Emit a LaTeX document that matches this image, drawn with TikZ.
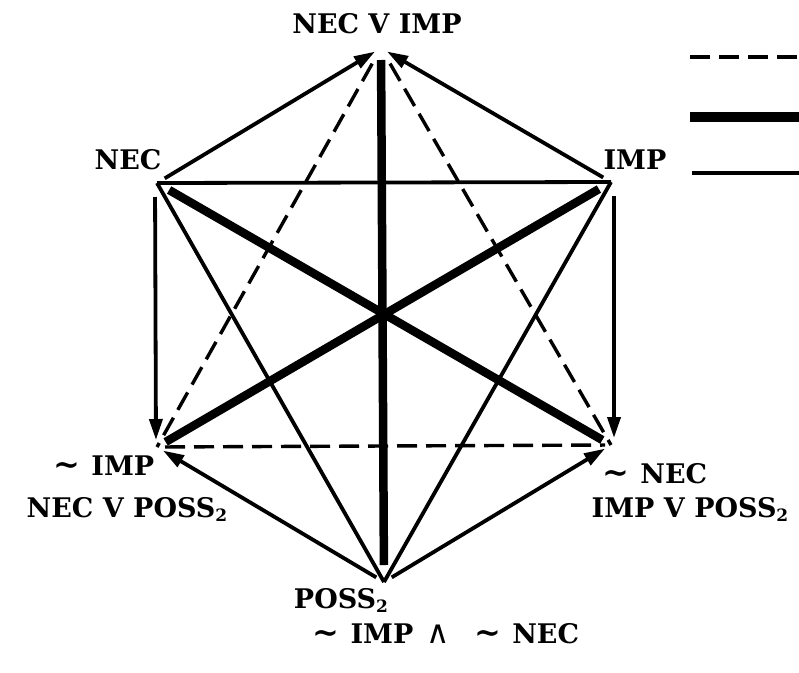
\documentclass[tikz,border=0pt]{standalone}
\usepackage{fontspec}
\setmainfont{DejaVu Serif}
\newfontfamily\symf{DejaVu Sans}
\usetikzlibrary{arrows.meta}
\newcommand{\subtwo}{\raisebox{-0.35ex}{\fontsize{17}{17}\selectfont 2}}
\newcommand{\tld}{{\fontsize{32}{32}\selectfont\textasciitilde}\hspace{0.4em}}
\begin{document}
\begin{tikzpicture}[x=1pt,y=-1pt,
  thinl/.style={line width=3.8pt},
  thickl/.style={line width=8.5pt},
  dashl/.style={line width=3.4pt, dash pattern=on 20pt off 9pt},
  arr/.style={thinl,-{Triangle[length=21pt,width=13pt]}, shorten >=7pt, shorten <=9pt},
  lab/.style={font=\fontsize{27}{27}\selectfont\bfseries, inner sep=0pt, anchor=base}]
\useasboundingbox (0,0) rectangle (799,672);
% vertices
\coordinate (T) at (381,48);
\coordinate (UL) at (157,183);
\coordinate (UR) at (611,182);
\coordinate (LL) at (157,447);
\coordinate (LR) at (611,445);
\coordinate (B) at (384,582);
% thin contrary triangle
\draw[thinl] (UL) -- (UR);
\draw[thinl] (UL) -- (B);
\draw[thinl] (UR) -- (B);
% dashed subcontrary triangle
\draw[dashl, shorten <=18pt] (T) -- (LL);
\draw[dashl, shorten <=18pt] (T) -- (LR);
\draw[dashl, shorten <=8pt, shorten >=6pt] (LL) -- (LR);
% thick contradictories
\draw[thickl, shorten <=14pt, shorten >=10pt] (UL) -- (LR);
\draw[thickl, shorten <=14pt, shorten >=10pt] (UR) -- (LL);
\draw[thickl, shorten <=12pt, shorten >=17pt] (T) -- (B);
% subalternation arrows
\draw[arr] (UL) -- (T);
\draw[arr] (UR) -- (T);
\draw[arr, shorten <=14pt] ([xshift=-2pt]UL) -- ([xshift=-1pt]LL);
\draw[arr, shorten <=14pt] ([xshift=3pt]UR) -- ([xshift=3pt]LR);
\draw[arr] (B) -- (LL);
\draw[arr] (B) -- (LR);
% legend
\coordinate (la1) at (690,57); \coordinate (lb1) at (799,57);
\coordinate (la2) at (690,117); \coordinate (lb2) at (799,117);
\coordinate (la3) at (692,173); \coordinate (lb3) at (799,173);
\draw[dashl] (la1) -- (lb1);
\draw[line width=10pt] (la2) -- (lb2);
\draw[thinl] (la3) -- (lb3);
% labels
\node[lab] (tl) at (377,33) {NEC V IMP};
\node[lab] (ul) at (128,169) {NEC};
\node[lab] (ur) at (635,169) {IMP};
\node[lab] (ll1) at (104,475) {\tld IMP};
\node[lab] (ll2) at (127,517) {NEC V POSS\subtwo};
\node[lab] (lr1) at (655,483) {\tld NEC};
\node[lab] (lr2) at (690,517) {IMP V POSS\subtwo};
\node[lab] (b1) at (341,608) {POSS\subtwo};
\node[lab] (b2) at (446,643) {\tld IMP\hspace{0.5em}{\symf\mdseries\fontsize{32}{32}\selectfont ∧}\hspace{0.9em}\tld NEC};
\end{tikzpicture}
\end{document}
